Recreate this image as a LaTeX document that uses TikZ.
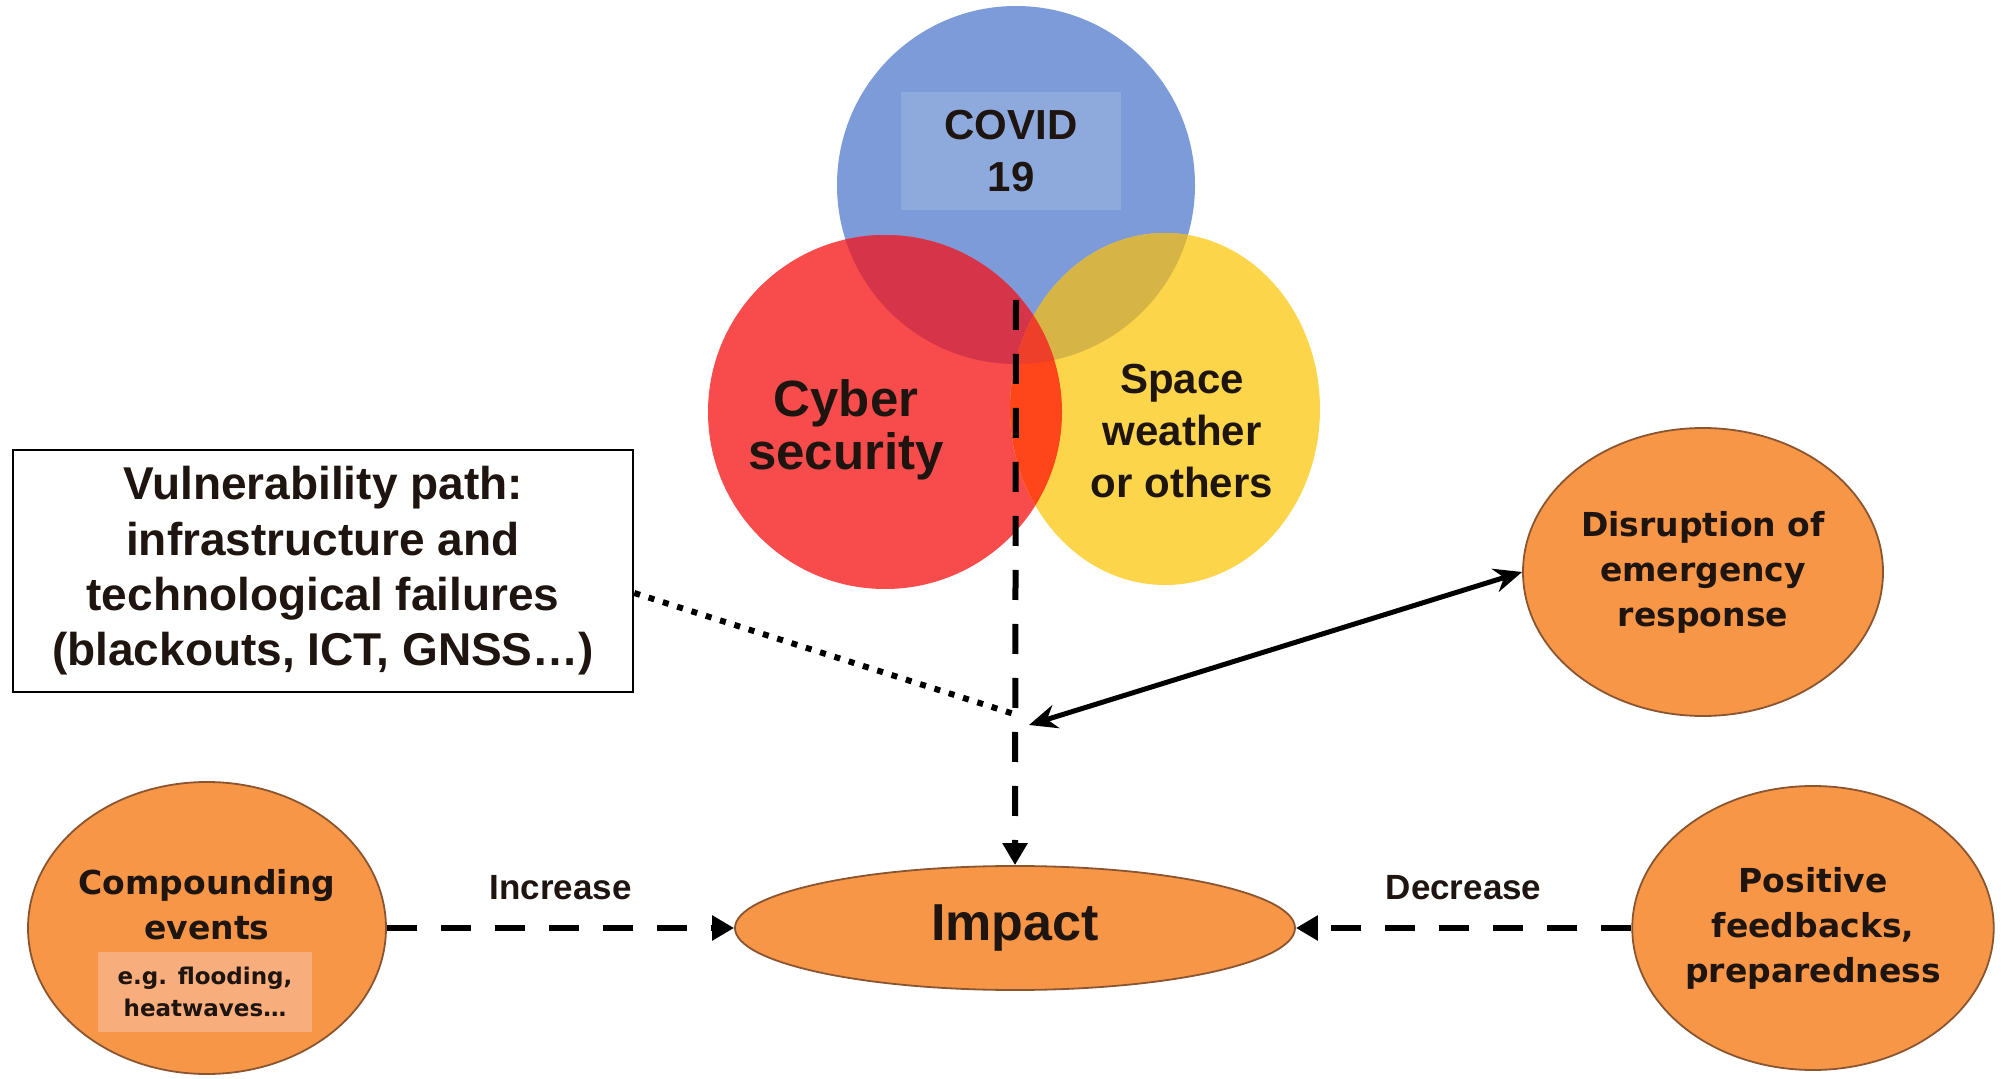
\documentclass[tikz,border=0pt]{standalone}
\usepackage{fontspec}
\setmainfont{Liberation Sans}
\newfontfamily\widefont{DejaVu Sans}
\usetikzlibrary{positioning, shapes.geometric, arrows.meta}

\definecolor{covidblue}{HTML}{7C9BD8}
\definecolor{covidbox}{HTML}{8EAADC}
\definecolor{cyberred}{HTML}{F84C4C}
\definecolor{spaceyellow}{HTML}{FCD54B}
\definecolor{bluered}{HTML}{D63448}
\definecolor{blueyellow}{HTML}{D6B446}
\definecolor{redyellow}{HTML}{FF461A}
\definecolor{allthree}{HTML}{EE3F2A}
\definecolor{eventorange}{HTML}{F79646}
\definecolor{eventedge}{HTML}{8A5530}
\definecolor{examplebox}{HTML}{F8AE7C}
\definecolor{ink}{HTML}{1E1410}

\tikzset{
  event/.style={ellipse, draw=eventedge, line width=0.9pt, fill=eventorange, minimum width=180pt, minimum height=144pt, inner sep=0pt},
  eventtext/.style={font=\widefont\bfseries\fontsize{16.5}{22.5}\selectfont, text=ink, align=center},
  venntext/.style={font=\bfseries\fontsize{21}{25.8}\selectfont, text=ink, align=center},
  dasharrow/.style={line width=3pt, dash pattern=on 15pt off 12pt, -{Triangle[length=11pt,width=12pt]}},
  flowlabel/.style={font=\bfseries\fontsize{17.5}{20}\selectfont, text=ink},
}

\begin{document}
\begin{tikzpicture}[x=0.5pt, y=-0.5pt]
  \useasboundingbox (0,0) rectangle (2004,1079);
  \fill[white] (0,0) rectangle (2004,1079);

  % venn of hazards
  \fill[covidblue] (1016,185) circle[radius=179];
  \fill[cyberred] (885,412) circle[radius=177];
  \fill[spaceyellow] (1165,409) ellipse[x radius=155, y radius=176];
  \begin{scope}
    \clip (1016,185) circle[radius=179];
    \fill[bluered] (885,412) circle[radius=177];
    \fill[blueyellow] (1165,409) ellipse[x radius=155, y radius=176];
  \end{scope}
  \begin{scope}
    \clip (885,412) circle[radius=177];
    \fill[redyellow] (1165,409) ellipse[x radius=155, y radius=176];
    \clip (1016,185) circle[radius=179];
    \fill[allthree] (1165,409) ellipse[x radius=155, y radius=176];
  \end{scope}

  \node[venntext, fill=covidbox, minimum width=110pt, minimum height=59pt] (covid) at (1011,151) {COVID\\19};
  \node[venntext, font=\bfseries\fontsize{25.5}{26.8}\selectfont] (cyber) at (846,430) {Cyber\\security};
  \node[venntext] (space) at (1182,431) {Space\\weather\\or others};

  \node[draw, line width=1.3pt, minimum width=310pt, minimum height=121pt, align=center, text=ink,
        font=\bfseries\fontsize{23}{27.7}\selectfont] (vuln) at (323,571)
        {Vulnerability path:\\infrastructure and\\technological failures\\(blackouts, ICT, GNSS…)};

  % consequences
  \node[event, minimum width=280pt, minimum height=62pt, font=\bfseries\fontsize{26}{30}\selectfont, text=ink] (impact) at (1015,928) {Impact};
  \node[event, eventtext] (disrupt) at (1703,572) {Disruption of\\emergency\\response};
  \node[event, eventtext, minimum height=142pt] (positive) at (1813,928) {Positive\\feedbacks,\\preparedness};
  \node[event, minimum width=179pt, minimum height=146pt] (compound) at (207,928) {};
  \node[eventtext] (compoundtxt) at (207,905) {Compounding\\events};
  \node[fill=examplebox, minimum width=107pt, minimum height=40pt, align=center, text=ink,
        font=\widefont\bfseries\fontsize{11.5}{16}\selectfont] (examples) at (205,992) {e.g. flooding,\\heatwaves…};

  \coordinate (hub) at (1016,300);
  \coordinate (meet) at (1014,714);
  \coordinate (reach) at (1029,725);

  \draw[dasharrow] (hub) -- (impact.north);
  \draw[line width=3pt, dash pattern=on 3pt off 4.5pt] ([yshift=-11pt]vuln.east) -- (meet);
  \draw[line width=2.5pt, {Stealth[length=14pt,width=12pt]}-{Stealth[length=14pt,width=12pt]}] (reach) -- (disrupt.west);

  \draw[dasharrow] (compound.east) -- (impact.west) node[midway, above=9pt, flowlabel] (increase) {Increase};
  \draw[dasharrow] (positive.west) -- (impact.east) node[midway, above=9pt, flowlabel] (decrease) {Decrease};
\end{tikzpicture}
\end{document}
